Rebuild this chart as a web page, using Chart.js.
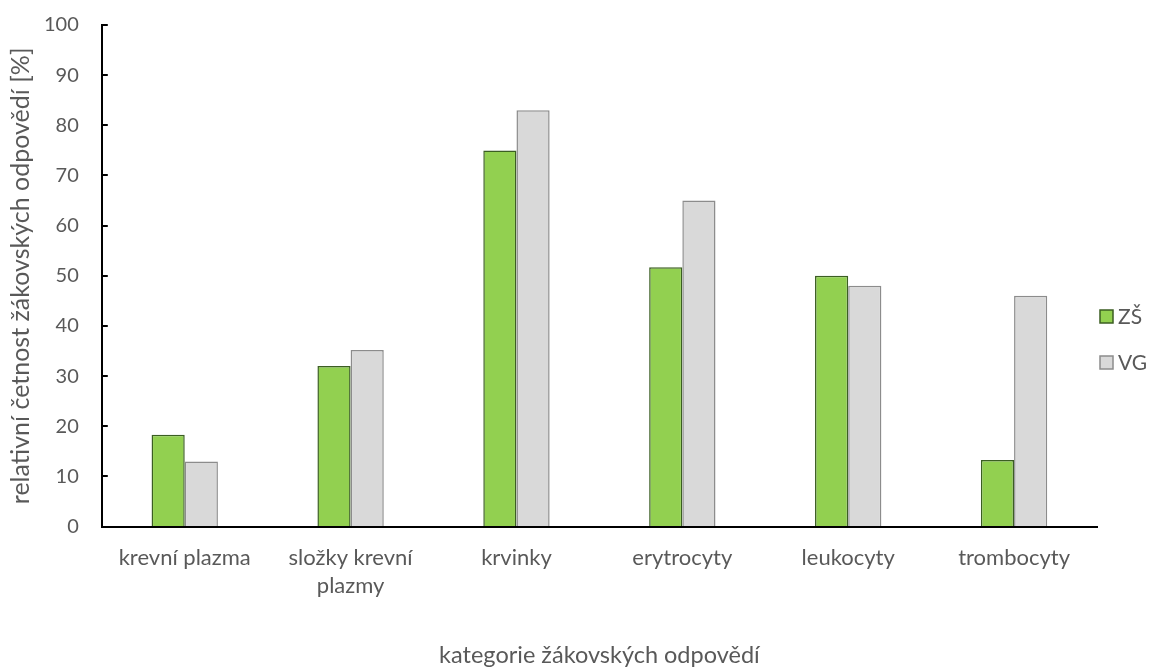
<!DOCTYPE html>
<html>
<head>
<meta charset="utf-8">
<script src="https://cdn.jsdelivr.net/npm/chart.js@4.4.1/dist/chart.umd.min.js"></script>
<style>
  html, body { margin: 0; padding: 0; background: #fff; }
  #wrap { width: 1150px; height: 667px; }
</style>
</head>
<body>
<div id="wrap"><canvas id="myChart"></canvas></div>
<script>
const categories = ['krevní plazma', ['složky krevní', 'plazmy'], 'krvinky', 'erytrocyty', 'leukocyty', 'trombocyty'];
const zsValues = [18.3, 32, 75, 51.7, 50, 13.3];
const vgValues = [13, 35.2, 83, 65, 48, 46];
const yTicks = [0, 10, 20, 30, 40, 50, 60, 70, 80, 90, 100];

const textColor = '#595959';
const fontFamily = 'Lato, "Open Sans", sans-serif';

// short tick marks pointing into the plot, plus the legend beside it
const axisExtras = {
  id: 'axisExtras',
  afterDraw(chart) {
    const {ctx, chartArea} = chart;
    const yScale = chart.scales.y;
    ctx.save();
    ctx.strokeStyle = '#000';
    ctx.lineWidth = 2;
    yTicks.forEach((v) => {
      const py = Math.round(yScale.getPixelForValue(v));
      ctx.beginPath();
      ctx.moveTo(chartArea.left, py);
      ctx.lineTo(chartArea.left + 6, py);
      ctx.stroke();
    });

    const x = chartArea.right + 3;
    chart.data.datasets.forEach((ds, i) => {
      const y = 310 + i * 46;
      ctx.fillStyle = ds.backgroundColor;
      ctx.fillRect(x, y, 13, 13);
      ctx.strokeStyle = ds.borderColor;
      ctx.lineWidth = 1.5;
      ctx.strokeRect(x, y, 13, 13);
      ctx.fillStyle = textColor;
      ctx.font = '21px ' + fontFamily;
      ctx.textBaseline = 'middle';
      ctx.fillText(ds.label, x + 18, y + 7);
    });
    ctx.restore();
  }
};

const configureData = () => {
  return {
    labels: categories,
    datasets: [{
      label: 'ZŠ',
      data: zsValues,
      backgroundColor: '#92D050',
      borderColor: '#3B5E22',
      borderWidth: 1.5
    }, {
      label: 'VG',
      data: vgValues,
      backgroundColor: '#D9D9D9',
      borderColor: '#8C8C8C',
      borderWidth: 1.5
    }]
  }
};

const configureChart = (data) => {
  return {
    type: 'bar',
    data: data,
    plugins: [axisExtras],
    options: {
      responsive: true,
      maintainAspectRatio: false,
      animation: false,
      layout: {
        padding: { top: 25, right: 53, bottom: 0, left: 6 }
      },
      datasets: {
        bar: {
          categoryPercentage: 0.4,
          barPercentage: 1.0
        }
      },
      scales: {
        x: {
          grid: { display: false, drawTicks: false },
          border: { display: true, color: '#000', width: 2 },
          ticks: {
            color: textColor,
            font: { family: fontFamily, size: 22, lineHeight: 1.27 },
            padding: 17,
            maxRotation: 0
          },
          title: {
            display: true,
            text: 'kategorie žákovských odpovědí',
            color: textColor,
            font: { family: fontFamily, size: 23.5, lineHeight: 1 },
            padding: { top: 27, bottom: 0 }
          }
        },
        y: {
          min: yTicks[0],
          max: yTicks[yTicks.length - 1],
          afterBuildTicks: (axis) => {
            axis.ticks = yTicks.map((v) => ({ value: v }));
          },
          // invisible tick gap keeps the labels off the axis line
          grid: {
            drawOnChartArea: false,
            drawTicks: true,
            tickLength: 23,
            color: 'rgba(0,0,0,0)'
          },
          border: { display: true, color: '#000', width: 2 },
          ticks: {
            color: textColor,
            font: { family: fontFamily, size: 20 },
            padding: 0
          },
          title: {
            display: true,
            text: 'relativní četnost žákovských odpovědí [%]',
            color: textColor,
            font: { family: fontFamily, size: 25 },
            padding: { top: 0, bottom: 8 }
          }
        }
      },
      plugins: {
        legend: { display: false },
        tooltip: { enabled: false }
      }
    }
  }
};

const renderChart = () => {
  const ctx = document.getElementById('myChart');
  const data = configureData();
  const chartConfigurations = configureChart(data);
  const myChart = new Chart(ctx, chartConfigurations);
};

window.onload = () => {
  renderChart();
};
</script>
</body>
</html>
